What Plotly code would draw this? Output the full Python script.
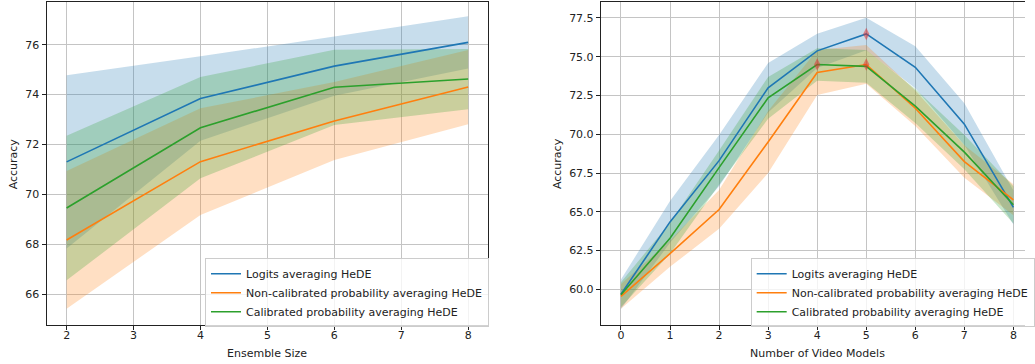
import plotly.graph_objects as go

# ---------------- data ----------------
ensemble_sizes = [2, 4, 6, 8]
left_logits_mean = [71.30, 73.84, 75.14, 76.09]
left_logits_std = [3.47, 1.69, 1.19, 1.05]
left_noncal_mean = [68.17, 71.31, 72.94, 74.30]
left_noncal_std = [2.76, 2.14, 1.56, 1.49]
left_cal_mean = [69.45, 72.67, 74.29, 74.62]
left_cal_std = [2.90, 2.03, 1.51, 1.21]

video_models = [0, 1, 2, 3, 4, 5, 6, 7, 8]
right_logits_mean = [59.68, 64.35, 68.30, 73.00, 75.38, 76.47, 74.32, 70.65, 65.28]
right_logits_std = [0.95, 1.35, 1.65, 1.60, 1.10, 1.05, 1.35, 1.35, 1.10]
right_noncal_mean = [59.55, 62.30, 65.15, 69.50, 73.98, 74.50, 71.68, 68.24, 65.77]
right_noncal_std = [0.80, 0.85, 1.25, 2.00, 1.45, 1.25, 1.15, 1.05, 1.00]
right_cal_mean = [59.65, 63.30, 67.85, 72.35, 74.50, 74.38, 71.82, 68.85, 65.45]
right_cal_std = [0.80, 1.00, 1.10, 1.35, 1.05, 1.05, 1.10, 1.10, 1.20]

series_names = ["Logits averaging HeDE",
                "Non-calibrated probability averaging HeDE",
                "Calibrated probability averaging HeDE"]
colors = ["#1f77b4", "#ff7f0e", "#2ca02c"]
fills = ["rgba(31,119,180,0.25)", "rgba(255,127,14,0.25)", "rgba(44,160,44,0.25)"]

FONT = "DejaVu Sans"
W, H = 1035, 364
MT, MB = 2, 39

fig = go.Figure()

panels = [
    dict(x=ensemble_sizes,
         means=[left_logits_mean, left_noncal_mean, left_cal_mean],
         stds=[left_logits_std, left_noncal_std, left_cal_std],
         xa="x", ya="y", legend="legend", mark=False),
    dict(x=video_models,
         means=[right_logits_mean, right_noncal_mean, right_cal_mean],
         stds=[right_logits_std, right_noncal_std, right_cal_std],
         xa="x2", ya="y2", legend="legend2", mark=True),
]

for p in panels:
    xs = p["x"]
    # bands
    for m, s, fc in zip(p["means"], p["stds"], fills):
        up = [a + b for a, b in zip(m, s)]
        lo = [a - b for a, b in zip(m, s)]
        fig.add_trace(go.Scatter(
            x=list(xs) + list(xs)[::-1], y=up + lo[::-1],
            fill="toself", fillcolor=fc, line=dict(width=0),
            mode="lines", hoverinfo="skip", showlegend=False,
            xaxis=p["xa"], yaxis=p["ya"]))
    # lines
    for m, c, n in zip(p["means"], colors, series_names):
        fig.add_trace(go.Scatter(
            x=xs, y=m, mode="lines", line=dict(color=c, width=1.6),
            name=n, legend=p["legend"], xaxis=p["xa"], yaxis=p["ya"]))
    # max markers
    if p["mark"]:
        for m in p["means"]:
            i = max(range(len(m)), key=lambda k: m[k])
            fig.add_trace(go.Scatter(
                x=[xs[i]], y=[m[i]], mode="markers",
                marker=dict(symbol="diamond-tall", size=9,
                            color="rgba(230,40,40,0.5)",
                            line=dict(width=0)),
                showlegend=False, xaxis=p["xa"], yaxis=p["ya"]))

axis_common = dict(
    showgrid=True, gridcolor="#c4c4c4", gridwidth=1,
    showline=True, linecolor="#222222", linewidth=1,
    ticks="outside", ticklen=4, tickwidth=1, tickcolor="#222222",
    tickfont=dict(family=FONT, size=11, color="#222222"),
    zeroline=False,
)

PH = H - MT - MB
def py(pix):
    return (H - MB - pix) / PH

legend_common = dict(
    xanchor="left", yanchor="middle", y=py(292.8),
    bgcolor="rgba(255,255,255,0.8)", bordercolor="#cccccc",
    borderwidth=1, font=dict(family=FONT, size=11, color="#222222"),
    tracegroupgap=0)

fig.update_layout(
    width=W, height=H,
    margin=dict(l=0, r=0, t=MT, b=MB, pad=0),
    paper_bgcolor="white", plot_bgcolor="white",
    font=dict(family=FONT, size=11, color="#222222"),
    xaxis=dict(axis_common, domain=[47 / W, 493 / W], range=[1.7, 8.3],
               dtick=1, tick0=0, mirror=True, anchor="y",
               ticklabelstandoff=-4),
    yaxis=dict(axis_common, domain=[0, 1], range=[64.76, 77.71],
               dtick=2, tick0=0, mirror=True, anchor="x"),
    xaxis2=dict(axis_common, domain=[606.7 / W, 1.0], range=[-0.41, 8.236],
                dtick=1, tick0=0, mirror=True, anchor="y2",
                ticklabelstandoff=-4),
    yaxis2=dict(axis_common, domain=[0, 1], range=[57.70, 78.53],
                dtick=2.5, tick0=0, tickformat=".1f", mirror=False, anchor="x2"),
    legend=dict(legend_common, x=207 / W),
    legend2=dict(legend_common, x=758 / W),
    showlegend=True,
)

annots = [
    dict(text="Accuracy", x=14 / W, y=0.5, textangle=-90),
    dict(text="Accuracy", x=563 / W, y=0.5, textangle=-90),
    dict(text="Ensemble Size", x=270 / W, y=py(353)),
    dict(text="Number of Video Models", x=825 / W, y=py(353)),
]
for a in annots:
    fig.add_annotation(xref="paper", yref="paper", showarrow=False,
                       xanchor="center", yanchor="middle",
                       font=dict(family=FONT, size=11, color="#222222"), **a)

fig.write_html("out.html")
